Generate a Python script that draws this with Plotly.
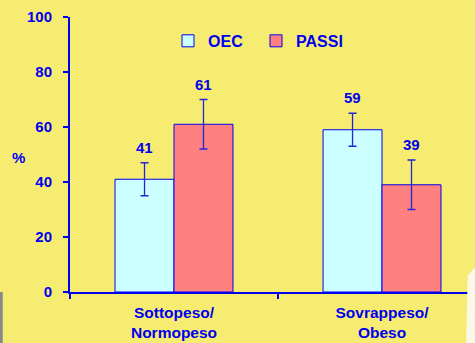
import plotly.graph_objects as go

categories = ["Sottopeso/<br>Normopeso", "Sovrappeso/<br>Obeso"]
oec_values = [41, 59]
passi_values = [61, 39]
oec_err = [6, 6]
passi_err = [9, 9]
y_ticks = [0, 20, 40, 60, 80, 100]

BLUE = "#0000F0"
BG = "#F7EC72"
FONT = "Liberation Sans"

fig = go.Figure()
fig.add_trace(go.Bar(
    name="OEC", x=categories, y=oec_values,
    marker=dict(color="#CCFFFF", line=dict(color=BLUE, width=1)),
    error_y=dict(type="data", array=oec_err, color="#2424D8", thickness=1.3, width=4),
))
fig.add_trace(go.Bar(
    name="PASSI", x=categories, y=passi_values,
    marker=dict(color="#FF8080", line=dict(color=BLUE, width=1)),
    error_y=dict(type="data", array=passi_err, color="#2424D8", thickness=1.3, width=4),
))

# value labels above error bars
annotations = []
for i, cat in enumerate(categories):
    for off, vals, errs in ((-0.142, oec_values, oec_err), (0.142, passi_values, passi_err)):
        annotations.append(dict(
            x=i + off, y=vals[i] + errs[i], xref="x", yref="y",
            text=str(vals[i]), showarrow=False, yanchor="bottom", yshift=5,
            font=dict(family=FONT, size=15, color=BLUE, weight="bold"),
        ))
annotations.append(dict(
    x=-0.148, y=49, xref="paper", yref="y", text="%", showarrow=False,
    font=dict(family=FONT, size=15, color=BLUE, weight="bold"),
))

shapes = [
    dict(type="rect", xref="paper", yref="paper", x0=-0.175, x1=-0.166, y0=-0.19, y1=0.0,
         fillcolor="#8A8A8A", line=dict(width=0), layer="above"),
    dict(type="path", xref="paper", yref="paper",
         path="M 0.978 -0.19 L 0.982 0.06 L 1.0 0.09 L 1.0 -0.19 Z",
         fillcolor="#FBF8E8", line=dict(width=0), layer="above"),
]

fig.update_layout(
    width=475, height=343,
    margin=dict(l=70, r=0, t=17, b=51),
    paper_bgcolor=BG, plot_bgcolor=BG,
    barmode="group", bargap=0.433, bargroupgap=0,
    showlegend=True,
    legend=dict(orientation="h", x=0.242, y=0.913, xanchor="left", yanchor="middle",
                bgcolor="rgba(0,0,0,0)", entrywidth=43, entrywidthmode="pixels",
                font=dict(family=FONT, size=16, color=BLUE, weight="bold")),
    annotations=annotations,
    shapes=shapes,
    xaxis=dict(type="category", range=[-0.5, 1.447], showline=True, linecolor=BLUE, linewidth=2,
               ticks="outside", tickson="boundaries", ticklen=5, tickcolor=BLUE, tickwidth=2,
               ticklabelstandoff=5, automargin=False,
               showgrid=False, zeroline=False,
               tickfont=dict(family=FONT, size=15.5, color=BLUE, weight="bold")),
    yaxis=dict(range=[0, 100], tickvals=y_ticks, showline=True, linecolor=BLUE, linewidth=2,
               ticks="outside", ticklen=5, tickcolor=BLUE, tickwidth=2,
               ticklabelstandoff=8, automargin=False,
               showgrid=False, zeroline=False,
               tickfont=dict(family=FONT, size=15, color=BLUE, weight="bold")),
)

fig.write_html("out.html", config={"displayModeBar": False},
               post_script="document.body.style.margin='0';document.body.style.overflow='hidden';")
